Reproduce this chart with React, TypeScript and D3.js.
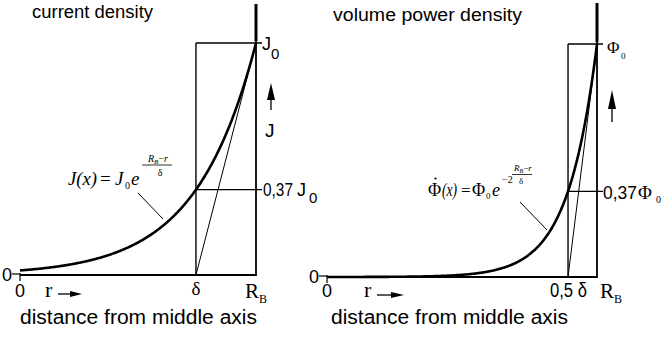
import React from "react";
import * as d3 from "d3";

// ---- data ----
const panelTitles = ["current density", "volume power density"];
const xAxisTitle = "distance from middle axis";
const decayFactors = [1, 2]; // exponent multiplier k in e^{-k (R_B - r)/δ}
const radiusInDelta = [3.93, 4.66]; // R_B expressed in units of δ
const boxWidthInDelta = [1, 0.5]; // box left edge at R_B - w·δ
const edgeTickLabels = ["δ", "0,5 δ"];
const levelValue = [Math.exp(-1), Math.exp(-1)]; // 0,37
const peakValue = [1, 1];

// ---- layout (pixels) ----
const panels = [
  { x0: 20, x1: 256, y0: 275, y1: 43, titleX: 32, titleW: 121, titleY: 18, axTitleX: 20, axTitleW: 237, topAxis: 4, rbX: 245 },
  { x0: 327, x1: 597, y0: 277, y1: 44, titleX: 333, titleW: 189, titleY: 21, axTitleX: 331, axTitleW: 237, topAxis: 3, rbX: 600 },
];

const SANS = "'Liberation Sans', Arial, sans-serif";
const SERIF = "'Liberation Serif', 'Times New Roman', serif";

function Panel({ i }: { i: number }) {
  const p = panels[i];
  const R = radiusInDelta[i];
  const k = decayFactors[i];
  const x = d3.scaleLinear().domain([0, R]).range([p.x0, p.x1]);
  const y = d3.scaleLinear().domain([0, peakValue[i]]).range([p.y0, p.y1]);
  const samples = d3.range(0, R + 1e-9, R / 300);
  const curve = d3
    .line<number>()
    .x((r) => x(r))
    .y((r) => y(peakValue[i] * Math.exp(-k * (R - r))))(samples) as string;
  const bx = x(R - boxWidthInDelta[i]);
  const ly = y(levelValue[i]);
  const ty = y(peakValue[i]);
  return (
    <g>
      <text x={p.titleX} y={p.titleY} fontFamily={SANS} fontSize={17.5} textLength={p.titleW} lengthAdjust="spacingAndGlyphs">
        {panelTitles[i]}
      </text>
      <text x={p.axTitleX} y={324} fontFamily={SANS} fontSize={19.5} textLength={p.axTitleW} lengthAdjust="spacingAndGlyphs">
        {xAxisTitle}
      </text>
      {/* axes */}
      <line x1={p.x0} x2={p.x1} y1={p.y0} y2={p.y0} stroke="#000" strokeWidth={2.2} />
      <line x1={p.x1} x2={p.x1} y1={p.y0 + 1} y2={p.topAxis} stroke="#000" strokeWidth={1.8} />
      <line x1={p.x1} x2={p.x1} y1={ty - 2} y2={p.topAxis} stroke="#000" strokeWidth={3} />
      {/* origin cross */}
      <line x1={p.x0 - 8} x2={p.x0} y1={p.y0 - 1} y2={p.y0 - 1} stroke="#000" strokeWidth={1.2} />
      <line x1={p.x0} x2={p.x0} y1={p.y0 - 2} y2={p.y0 + 6} stroke="#000" strokeWidth={1.2} />
      {/* box */}
      <line x1={bx} x2={bx} y1={p.y0} y2={ty} stroke="#000" strokeWidth={1.4} />
      <line x1={bx} x2={p.x1 + 6} y1={ty} y2={ty} stroke="#000" strokeWidth={1.4} />
      <line x1={bx} x2={p.x1 + 6} y1={ly} y2={ly} stroke="#000" strokeWidth={1.2} />
      {/* tangent */}
      <line x1={bx} x2={p.x1} y1={p.y0} y2={ty} stroke="#000" strokeWidth={1} />
      {/* curve */}
      <path d={curve} fill="none" stroke="#000" strokeWidth={2.6} />
      {/* zero labels */}
      <text x={p.x0 - 8} y={p.y0 + 6} textAnchor="end" fontFamily={SANS} fontSize={18}>0</text>
      <text x={p.x0} y={297} textAnchor="middle" fontFamily={SANS} fontSize={18}>0</text>
      {/* edge labels */}
      {i === 0 ? (
        <text x={bx} y={295} textAnchor="middle" fontFamily={SERIF} fontSize={19}>{edgeTickLabels[i]}</text>
      ) : (
        <text x={550} y={297} fontFamily={SANS} fontSize={20} textLength={37} lengthAdjust="spacingAndGlyphs">{edgeTickLabels[i]}</text>
      )}
      <text x={p.rbX} y={298} fontFamily={SERIF} fontSize={21}>
        R<tspan fontSize={12} dy={5}>B</tspan>
      </text>
    </g>
  );
}

function Arrow({ x1, y1, x2, y2, head = 12, w = 5 }: { x1: number; y1: number; x2: number; y2: number; head?: number; w?: number }) {
  const ang = Math.atan2(y2 - y1, x2 - x1);
  const bx = x2 - head * Math.cos(ang);
  const by = y2 - head * Math.sin(ang);
  const nx = -Math.sin(ang) * w;
  const ny = Math.cos(ang) * w;
  return (
    <g>
      <line x1={x1} y1={y1} x2={bx} y2={by} stroke="#000" strokeWidth={1.3} />
      <path d={`M${x2},${y2}L${bx + nx},${by + ny}L${bx - nx},${by - ny}Z`} fill="#000" />
    </g>
  );
}

export default function App() {
  return (
    <svg width={661} height={338} style={{ position: "absolute", left: 0, top: 0, background: "#fff" }}>
      <rect width={661} height={338} fill="#fff" />
      <Panel i={0} />
      <Panel i={1} />

      {/* left panel annotations */}
      <text x={262} y={50} fontFamily={SANS} fontSize={18}>J</text>
      <text x={271} y={59} fontFamily={SANS} fontSize={15}>0</text>
      <Arrow x1={271} y1={110} x2={271} y2={83} head={17} w={4} />
      <text x={265} y={137} fontFamily={SANS} fontSize={19}>J</text>
      <text x={263} y={196} fontFamily={SANS} fontSize={18} textLength={30} lengthAdjust="spacingAndGlyphs">0,37</text>
      <text x={297} y={196} fontFamily={SANS} fontSize={18}>J</text>
      <text x={309} y={203} fontFamily={SANS} fontSize={15}>0</text>
      <Arrow x1={58} y1={294} x2={82} y2={294} head={12} w={3} />
      <text x={45} y={297} fontFamily={SERIF} fontSize={22}>r</text>

      {/* left formula */}
      <text x={68} y={185} fontFamily={SERIF} fontSize={19} fontStyle="italic" textLength={29} lengthAdjust="spacingAndGlyphs">J(x)</text>
      <text x={100} y={185} fontFamily={SERIF} fontSize={19}>=</text>
      <text x={115} y={185} fontFamily={SERIF} fontSize={19} fontStyle="italic">J</text>
      <text x={125} y={189} fontFamily={SERIF} fontSize={10}>0</text>
      <text x={131} y={185} fontFamily={SERIF} fontSize={19} fontStyle="italic">e</text>
      <text x={148} y={162} fontFamily={SERIF} fontSize={10} fontStyle="italic">R<tspan fontSize={7} dy={2}>B</tspan><tspan dy={-2} fontStyle="normal">−</tspan>r</text>
      <line x1={142} x2={172} y1={165} y2={165} stroke="#000" strokeWidth={0.8} />
      <text x={160} y={176} fontFamily={SERIF} fontSize={10} textAnchor="middle">δ</text>
      <line x1={138} y1={193} x2={163} y2={219} stroke="#000" strokeWidth={1} />

      {/* right panel annotations */}
      <text x={607} y={53} fontFamily={SERIF} fontSize={17}>Φ</text>
      <text x={621} y={59} fontFamily={SERIF} fontSize={9}>0</text>
      <Arrow x1={612} y1={122} x2={612} y2={90} head={19} w={4} />
      <text x={603} y={199} fontFamily={SANS} fontSize={18} textLength={34} lengthAdjust="spacingAndGlyphs">0,37</text>
      <text x={638} y={199} fontFamily={SERIF} fontSize={19}>Φ</text>
      <text x={656} y={203} fontFamily={SERIF} fontSize={10}>0</text>
      <Arrow x1={377} y1={295} x2={404} y2={295} head={13} w={3} />
      <text x={364} y={297} fontFamily={SERIF} fontSize={22}>r</text>

      {/* right formula */}
      <text x={428} y={196} fontFamily={SERIF} fontSize={18}>Φ</text>
      <circle cx={435.5} cy={178.5} r={1.1} fill="#000" />
      <text x={442} y={196} fontFamily={SERIF} fontSize={18} fontStyle="italic" textLength={15} lengthAdjust="spacingAndGlyphs">(x)</text>
      <text x={461} y={196} fontFamily={SERIF} fontSize={17}>=</text>
      <text x={472} y={196} fontFamily={SERIF} fontSize={18}>Φ</text>
      <text x={486} y={199} fontFamily={SERIF} fontSize={9}>0</text>
      <text x={492} y={196} fontFamily={SERIF} fontSize={18} fontStyle="italic">e</text>
      <text x={502} y={183} fontFamily={SERIF} fontSize={10}>−2</text>
      <text x={514} y={171} fontFamily={SERIF} fontSize={9} fontStyle="italic">R<tspan fontSize={6} dy={2}>B</tspan><tspan dy={-2} fontStyle="normal">−</tspan>r</text>
      <line x1={512} x2={532} y1={174.5} y2={174.5} stroke="#000" strokeWidth={0.8} />
      <text x={521} y={184} fontFamily={SERIF} fontSize={9} textAnchor="middle">δ</text>
      <line x1={520} y1={202} x2={547} y2={230} stroke="#000" strokeWidth={1} />
    </svg>
  );
}
